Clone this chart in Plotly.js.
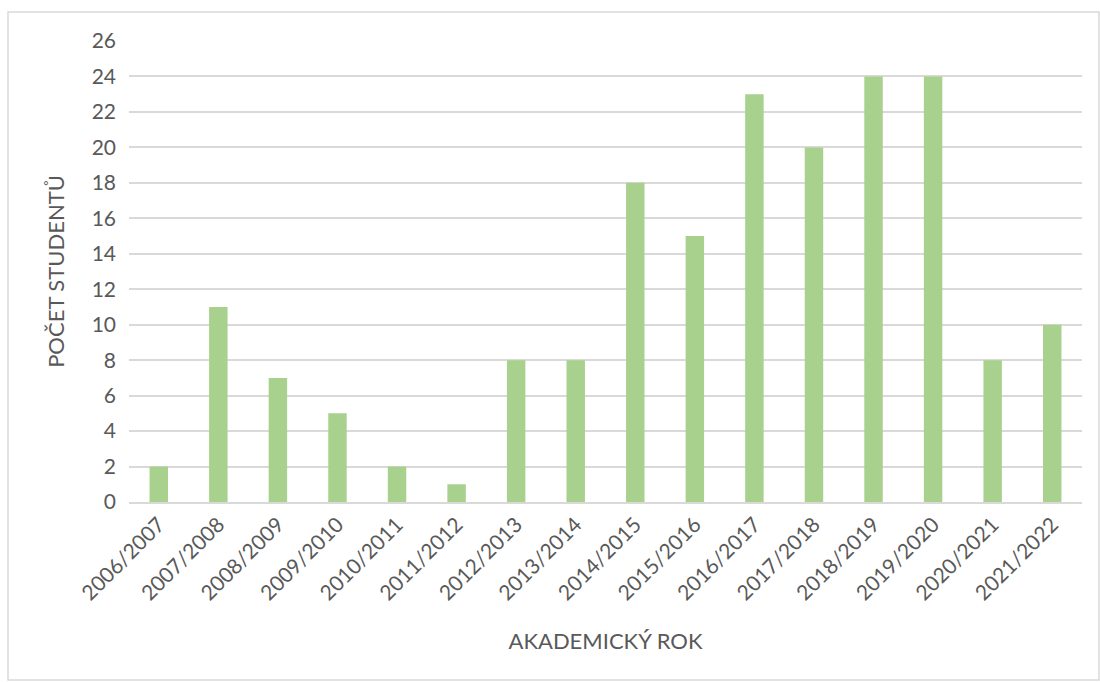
<!DOCTYPE html>
<html>
<head>
<meta charset="utf-8">
<script src="https://cdn.plot.ly/plotly-3.0.1.min.js"></script>
<style>
html,body{margin:0;padding:0;background:#fff;}
#chart{width:1100px;height:682px;}
</style>
</head>
<body>
<div id="chart"></div>
<script>
const categories = ["2006/2007","2007/2008","2008/2009","2009/2010","2010/2011","2011/2012","2012/2013","2013/2014","2014/2015","2015/2016","2016/2017","2017/2018","2018/2019","2019/2020","2020/2021","2021/2022"];
const students = [2, 11, 7, 5, 2, 1, 8, 8, 18, 15, 23, 20, 24, 24, 8, 10];
const yTicks = [0,2,4,6,8,10,12,14,16,18,20,22,24,26];
const yTitle = "POČET STUDENTŮ";
const xTitle = "AKADEMICKÝ ROK";

const fontFam = "Lato, 'Open Sans', sans-serif";
const textColor = "#595959";

const trace = {
  type: "bar",
  x: categories,
  y: students,
  marker: {color: "#A9D18E"},
  hoverinfo: "x+y"
};

const layout = {
  width: 1100,
  height: 682,
  margin: {l: 129, r: 18, t: 41, b: 180},
  paper_bgcolor: "#ffffff",
  plot_bgcolor: "#ffffff",
  bargap: 0.69,
  showlegend: false,
  font: {family: fontFam, color: textColor, size: 21},
  xaxis: {
    type: "category",
    tickangle: -45,
    tickfont: {family: fontFam, size: 21, color: textColor},
    showgrid: false,
    showline: true,
    linecolor: "#D9D9D9",
    linewidth: 2,
    ticks: "",
    title: {text: xTitle, font: {family: fontFam, size: 22, color: textColor}, standoff: 30},
    automargin: false
  },
  yaxis: {
    range: [0, 26],
    tickvals: yTicks,
    ticktext: yTicks.map(String),
    tickfont: {family: fontFam, size: 21, color: textColor},
    showgrid: true,
    gridcolor: "#D9D9D9",
    gridwidth: 2,
    zeroline: false,
    showline: false,
    ticks: "",
    ticklabelstandoff: 12,
    title: {text: yTitle, font: {family: fontFam, size: 22, color: textColor}, standoff: 20},
    automargin: false
  },
  shapes: [{
    type: "rect",
    xref: "paper", yref: "paper",
    x0: (8-129)/953, x1: (1099-129)/953,
    y0: (502-680)/461, y1: (502-12)/461,
    line: {color: "#D9D9D9", width: 1.5},
    fillcolor: "rgba(0,0,0,0)",
    layer: "below"
  }]
};

Plotly.newPlot("chart", [trace], layout, {staticPlot: true, displayModeBar: false});
</script>
</body>
</html>
